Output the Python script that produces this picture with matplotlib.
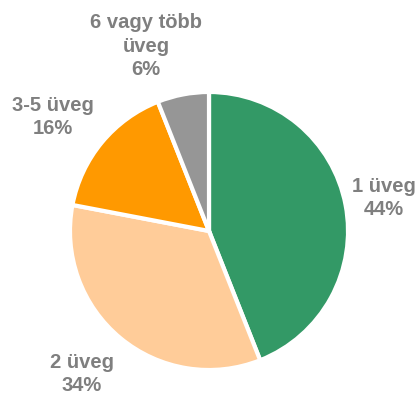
import matplotlib.pyplot as plt

labels = ["1 üveg", "2 üveg", "3-5 üveg", "6 vagy több\nüveg"]
shares = [44, 34, 16, 6]
colors = ["#339966", "#FFCC99", "#FF9900", "#969696"]

fig = plt.figure(figsize=(4.19, 4.00), dpi=100)
ax = fig.add_axes([0, 0, 1, 1])

ax.pie(shares, colors=colors, startangle=90, counterclock=False,
       center=(209, 169), radius=139, explode=[0.03, 0.01, 0.01, 0.01],
       wedgeprops=dict(edgecolor="white", linewidth=3), frame=True)
ax.set_xlim(0, 419)
ax.set_ylim(0, 400)
ax.axis("off")

# label positions (pixels from top-left)
label_pos = [(384, 198), (82, 374), (53, 117), (146, 46)]
for lab, val, (x, y) in zip(labels, shares, label_pos):
    ax.text(x, 400 - y, f"{lab}\n{val}%", ha="center", va="center",
            fontsize=14.5, fontweight="bold", color="#7F7F7F",
            family="Liberation Sans", linespacing=1.32)

fig.savefig("out.png", dpi=100)
